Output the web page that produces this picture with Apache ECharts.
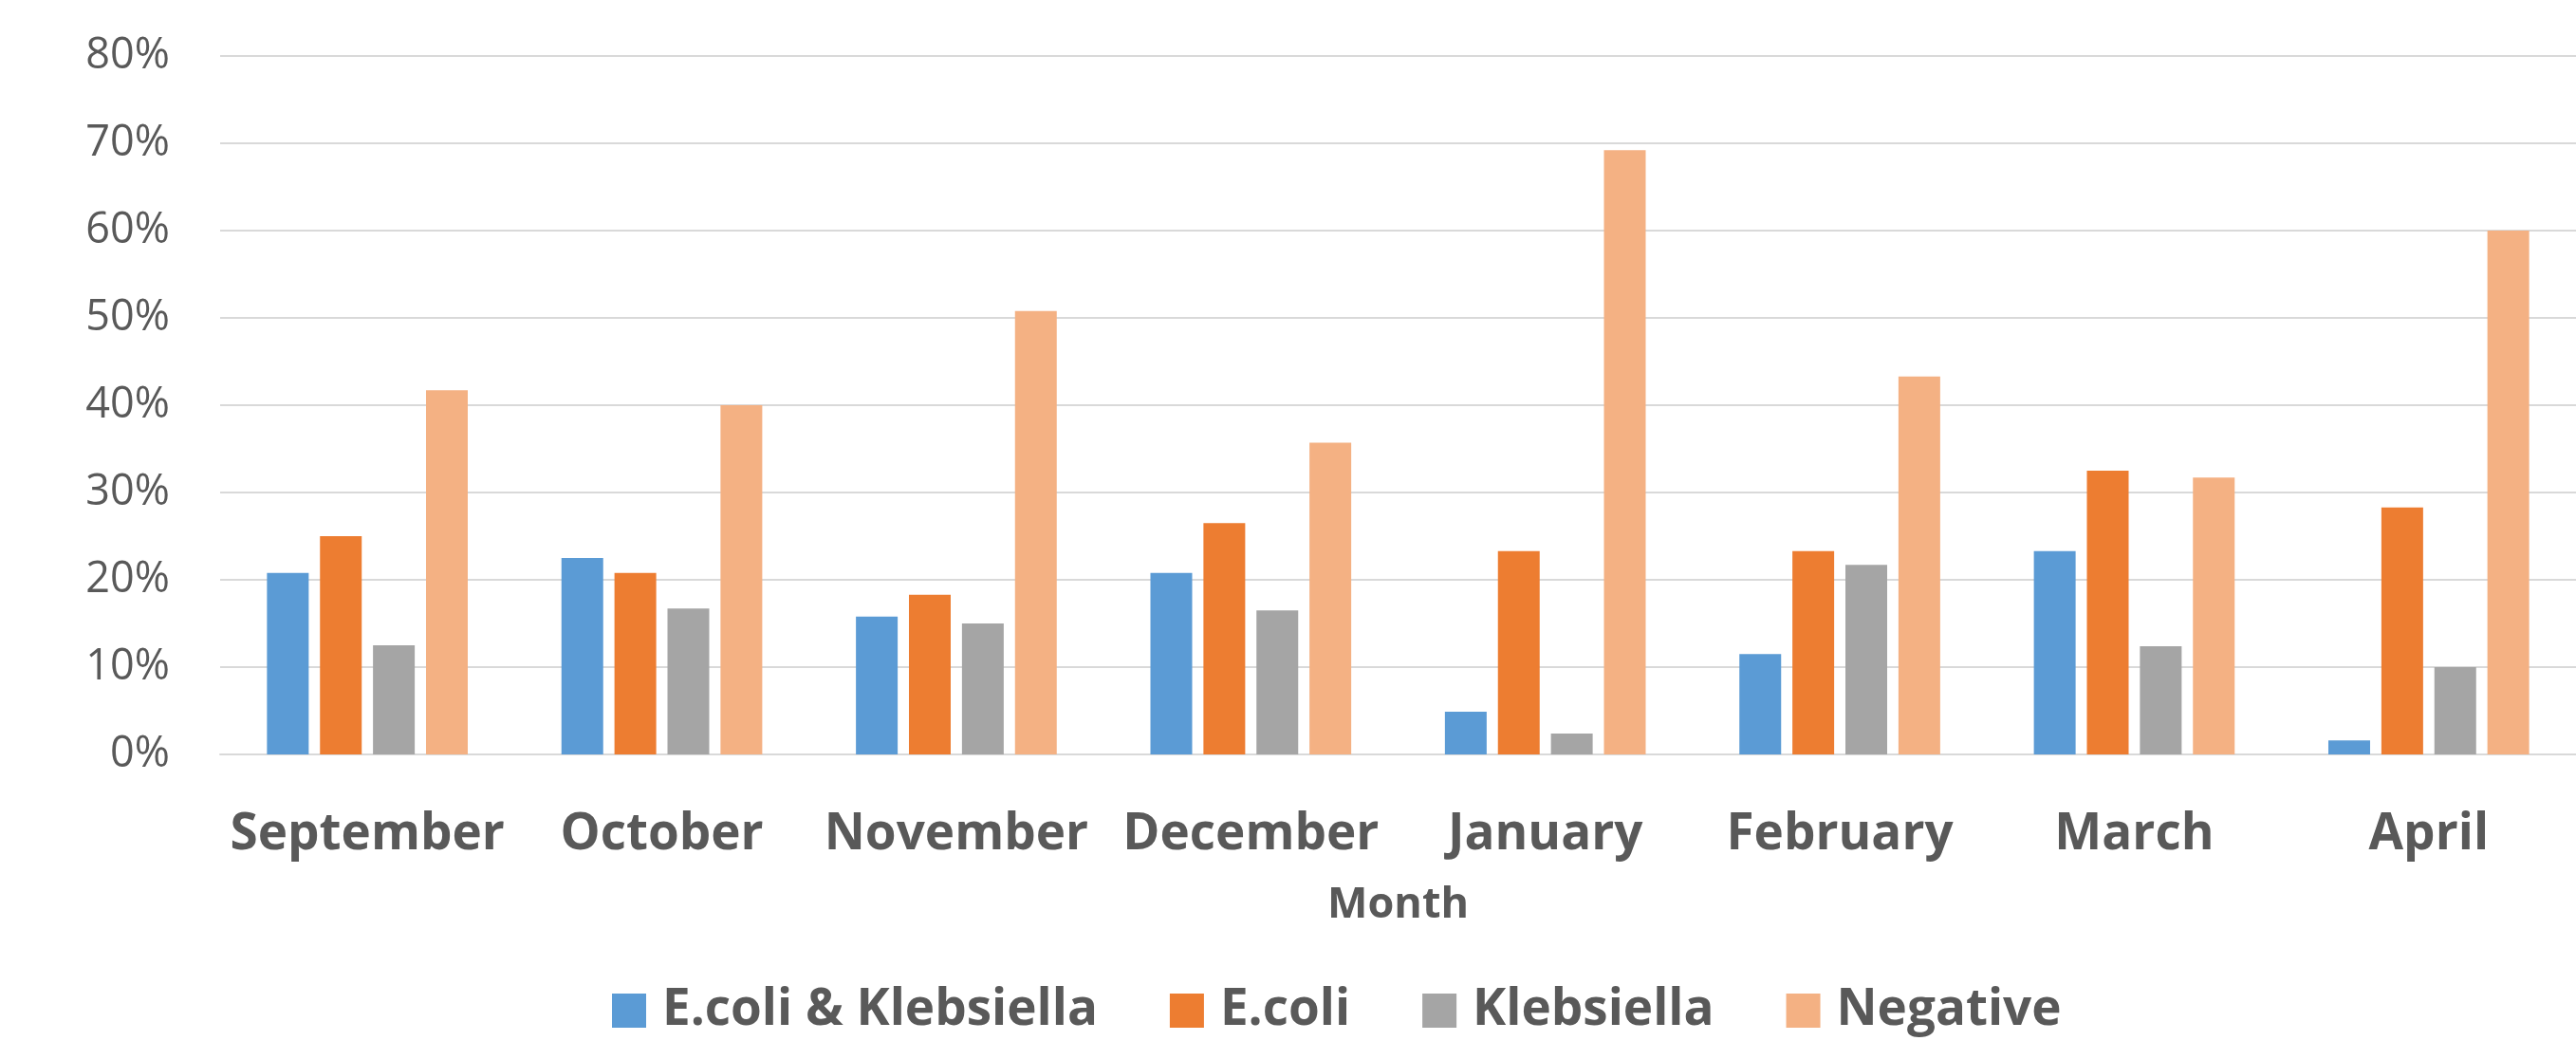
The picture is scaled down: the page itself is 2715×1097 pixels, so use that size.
<!DOCTYPE html>
<html>
<head>
<meta charset="utf-8">
<title>Monthly results</title>
<script src="https://cdn.jsdelivr.net/npm/echarts@6/dist/echarts.min.js"></script>
<style>
  html, body { margin: 0; padding: 0; background: #ffffff; }
  #chart { width: 2715px; height: 1097px; }
</style>
</head>
<body>
<div id="chart"></div>
<script>
// Months on the category axis
const months = ['September', 'October', 'November', 'December', 'January', 'February', 'March', 'April'];

// Share of samples per month, in percent
const ecoliKlebsiella = [20.8, 22.5, 15.8, 20.8, 4.9, 11.5, 23.3, 1.6];
const ecoli = [25.0, 20.8, 18.3, 26.5, 23.3, 23.3, 32.5, 28.3];
const klebsiella = [12.5, 16.7, 15.0, 16.5, 2.4, 21.7, 12.4, 10.0];
const negative = [41.7, 40.0, 50.8, 35.7, 69.2, 43.3, 31.7, 60.0];

const seriesNames = ['E.coli & Klebsiella', 'E.coli', 'Klebsiella', 'Negative'];
const seriesColors = ['#5B9BD5', '#ED7D31', '#A5A5A5', '#F4B183'];
const seriesValues = [ecoliKlebsiella, ecoli, klebsiella, negative];

const textColor = '#595959';
const font = '"Open Sans", "Noto Sans", sans-serif';

const chart = echarts.init(document.getElementById('chart'), null, { renderer: 'canvas' });

chart.setOption({
  animation: false,
  backgroundColor: '#ffffff',
  textStyle: { fontFamily: font },
  grid: { left: 232, right: 0, top: 59, bottom: 302, containLabel: false },
  legend: {
    data: seriesNames,
    left: 645,
    top: 1037,
    padding: 0,
    itemWidth: 36,
    itemHeight: 36,
    itemGap: 76,
    icon: 'rect',
    textStyle: {
      color: textColor,
      fontFamily: font,
      fontSize: 53,
      fontWeight: 'bold',
      lineHeight: 56,
      padding: [0, 0, 0, 12]
    }
  },
  xAxis: {
    type: 'category',
    data: months,
    name: 'Month',
    nameLocation: 'middle',
    nameGap: 137,
    nameTextStyle: {
      color: textColor,
      fontFamily: font,
      fontSize: 45,
      fontWeight: 'bold',
      lineHeight: 45
    },
    axisLine: { show: true, lineStyle: { color: '#D9D9D9', width: 2 } },
    axisTick: { show: false },
    axisLabel: {
      color: textColor,
      fontFamily: font,
      fontSize: 53,
      fontWeight: 'bold',
      lineHeight: 53,
      margin: 58,
      interval: 0
    },
    splitLine: { show: false }
  },
  yAxis: {
    type: 'value',
    min: 0,
    max: 80,
    interval: 10,
    axisLine: { show: false },
    axisTick: { show: false },
    axisLabel: {
      color: textColor,
      fontFamily: font,
      fontSize: 45,
      margin: 53,
      formatter: '{value}%'
    },
    splitLine: { show: true, lineStyle: { color: '#D9D9D9', width: 2 } }
  },
  series: seriesNames.map((name, i) => ({
    name: name,
    type: 'bar',
    data: seriesValues[i],
    barWidth: 44,
    barGap: '27%',
    itemStyle: { color: seriesColors[i] }
  }))
});
</script>
</body>
</html>
